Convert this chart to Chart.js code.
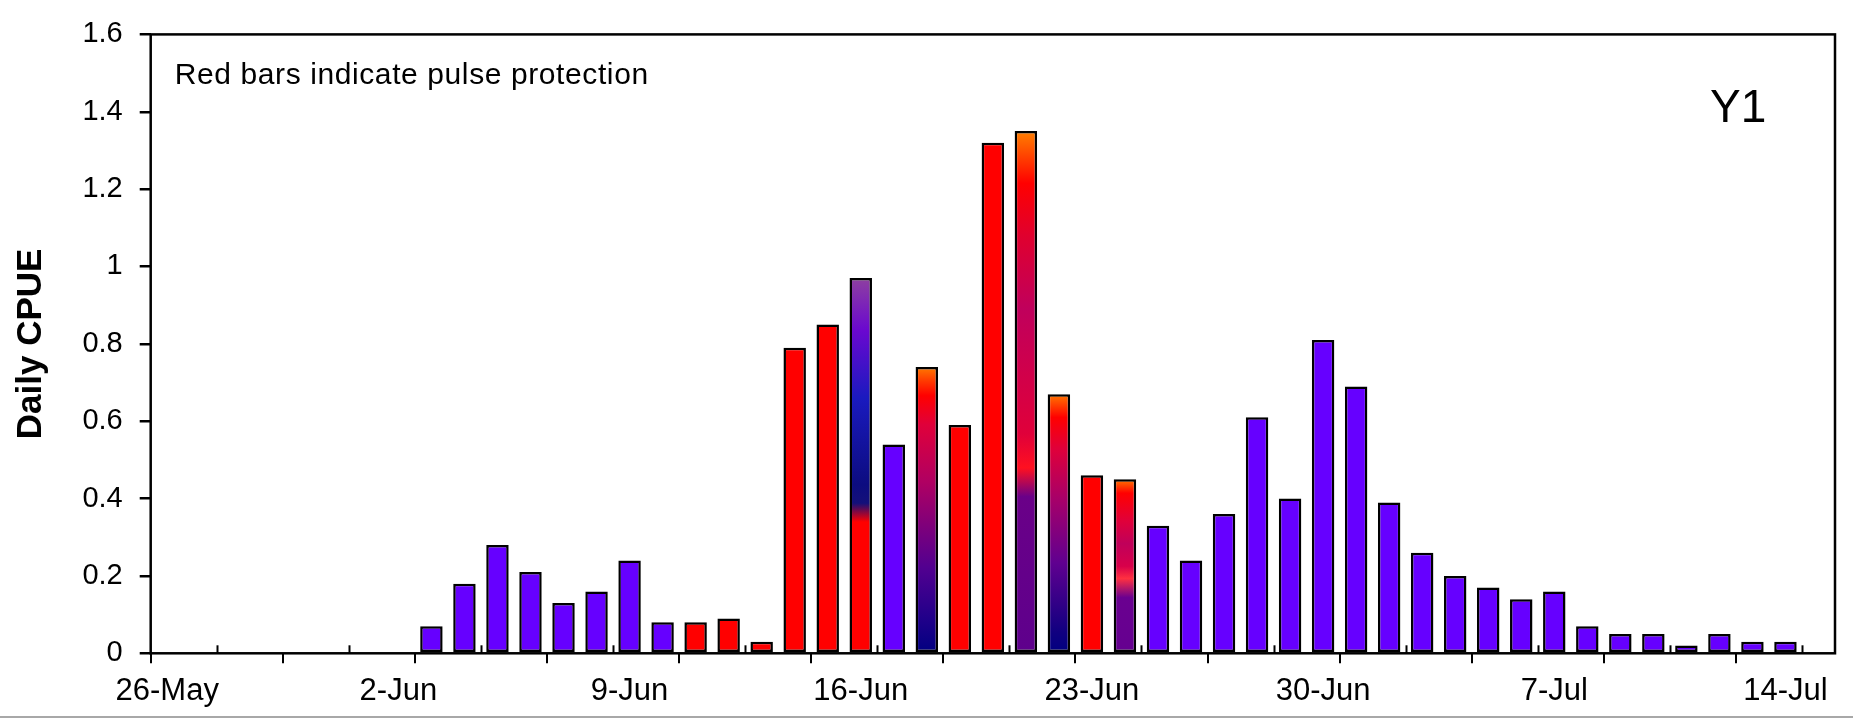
<!DOCTYPE html>
<html>
<head>
<meta charset="utf-8">
<script src="https://cdn.jsdelivr.net/npm/chart.js@4.4.1/dist/chart.umd.min.js"></script>
<style>
  html, body { margin: 0; padding: 0; background: #ffffff; }
  #wrap { width: 1853px; height: 718px; position: relative; }
</style>
</head>
<body>
<div id="wrap"><canvas id="c"></canvas></div>
<script>
// ---------- DATA ----------
const dates = [
  '26-May','27-May','28-May','29-May','30-May','31-May',
  '1-Jun','2-Jun','3-Jun','4-Jun','5-Jun','6-Jun','7-Jun','8-Jun','9-Jun','10-Jun',
  '11-Jun','12-Jun','13-Jun','14-Jun','15-Jun','16-Jun','17-Jun','18-Jun','19-Jun','20-Jun',
  '21-Jun','22-Jun','23-Jun','24-Jun','25-Jun','26-Jun','27-Jun','28-Jun','29-Jun','30-Jun',
  '1-Jul','2-Jul','3-Jul','4-Jul','5-Jul','6-Jul','7-Jul','8-Jul','9-Jul','10-Jul',
  '11-Jul','12-Jul','13-Jul','14-Jul','15-Jul'
];

const cpue = [
  null, null, null, null, null, null, null, null,
  0.07, 0.18, 0.28, 0.21, 0.13, 0.16, 0.24, 0.08,
  0.08, 0.09, 0.03, 0.79, 0.85,
  0.97, 0.54, 0.74, 0.59, 1.32, 1.35, 0.67, 0.46, 0.45,
  0.33, 0.24, 0.36, 0.61, 0.40, 0.81,
  0.69, 0.39, 0.26, 0.20, 0.17, 0.14, 0.16, 0.07, 0.05, 0.05, 0.02, 0.05, 0.03, 0.03,
  null
];

// bar fill group per day: b = no protection, r = pulse protection, g.. = blended bars
const barGroup = [
  '', '', '', '', '', '', '', '',
  'b', 'b', 'b', 'b', 'b', 'b', 'b', 'b',
  'r', 'r', 'r', 'r', 'r',
  'g16', 'b', 'g18', 'r', 'r', 'g21', 'g22', 'r', 'g24',
  'b', 'b', 'b', 'b', 'b', 'b',
  'b', 'b', 'b', 'b', 'b', 'b', 'b', 'b', 'b', 'b', 'b', 'b', 'b', 'b',
  ''
];

const xTickLabels = ['26-May', '2-Jun', '9-Jun', '16-Jun', '23-Jun', '30-Jun', '7-Jul', '14-Jul'];
const yTickLabels = ['0', '0.2', '0.4', '0.6', '0.8', '1', '1.2', '1.4', '1.6'];

const yTitle = 'Daily CPUE';
const noteText = 'Red bars indicate pulse protection';
const panelText = 'Y1';

// ---------- STYLES ----------
const FILLS = { b: '#6600FF', r: '#FF0000' };
const GRADIENTS = {
  g16: [[0, '#FF0000'], [0.35, '#FF0000'], [0.40, '#14107A'], [0.45, '#0C0C80'], [0.68, '#1A1ABF'], [0.86, '#6A08D0'], [1, '#8E40A0']],
  g18: [[0, '#000080'], [0.12, '#20008A'], [0.30, '#520090'], [0.45, '#80007A'], [0.60, '#B00062'], [0.80, '#E0003A'], [0.90, '#FF0000'], [0.95, '#FF3800'], [1, '#FF7A00']],
  g21: [[0, '#5E008C'], [0.30, '#6A0088'], [0.355, '#FF1020'], [0.42, '#E0003A'], [0.66, '#C0005C'], [0.80, '#E0002E'], [0.90, '#FF0000'], [1, '#FF8000']],
  g22: [[0, '#000080'], [0.08, '#100080'], [0.35, '#600090'], [0.60, '#A80068'], [0.79, '#E0003A'], [0.91, '#FF0000'], [1, '#FF7800']],
  g24: [[0, '#650090'], [0.32, '#6A0090'], [0.43, '#FF3040'], [0.50, '#D8004A'], [0.63, '#C0005A'], [0.76, '#E0003A'], [0.92, '#FF0000'], [1, '#FF7800']]
};
const FONT = '"Liberation Sans", Arial, Helvetica, sans-serif';

function barFill(context) {
  const g = barGroup[context.dataIndex];
  const stops = GRADIENTS[g];
  if (!stops) return FILLS[g] || FILLS.b;
  const chart = context.chart;
  const ys = chart.scales && chart.scales.y;
  const v = context.raw;
  if (!ys || !chart.chartArea || v == null) return FILLS.r;
  const y0 = ys.getPixelForValue(0);
  const y1 = ys.getPixelForValue(v);
  if (!isFinite(y0) || !isFinite(y1) || y0 === y1) return FILLS.r;
  const grad = chart.ctx.createLinearGradient(0, y0, 0, y1);
  stops.forEach(([f, c]) => grad.addColorStop(f, c));
  return grad;
}

const decor = {
  id: 'decor',
  afterDatasetsDraw(chart) {
    const { ctx, chartArea: a, scales: { x } } = chart;
    ctx.save();
    // minor tick marks (inside, every 2 days between major ticks)
    const slot = x.width / dates.length;
    ctx.strokeStyle = '#000';
    ctx.lineWidth = 2;
    for (let k = 2; k < dates.length; k += 4) {
      const px = Math.round(x.left + k * slot) + 0.5;
      ctx.beginPath();
      ctx.moveTo(px, a.bottom);
      ctx.lineTo(px, a.bottom - 8);
      ctx.stroke();
    }
    // plot frame
    ctx.lineWidth = 2.5;
    ctx.strokeRect(a.left, a.top, a.right - a.left, a.bottom - a.top);
    // in-plot texts
    ctx.fillStyle = '#000';
    ctx.textAlign = 'left';
    ctx.textBaseline = 'alphabetic';
    ctx.font = '30px ' + FONT;
    try { ctx.letterSpacing = '0.6px'; } catch (e) {}
    ctx.fillText(noteText, a.left + 24, a.top + 50);
    try { ctx.letterSpacing = '0px'; } catch (e) {}
    ctx.font = '46px ' + FONT;
    ctx.fillText(panelText, a.right - 125, a.top + 88);
    // bottom border line of the slide
    ctx.fillStyle = '#A8A8A8';
    ctx.fillRect(0, chart.height - 2, chart.width, 2);
    ctx.restore();
  }
};

new Chart(document.getElementById('c'), {
  type: 'bar',
  data: {
    labels: dates,
    datasets: [{
      data: cpue,
      backgroundColor: barFill,
      borderColor: '#000000',
      borderWidth: 2.5,
      borderSkipped: false,
      categoryPercentage: 1.0,
      barPercentage: 0.68
    }]
  },
  options: {
    responsive: true,
    maintainAspectRatio: false,
    animation: false,
    devicePixelRatio: 1,
    layout: { padding: { top: 30.5, right: 18, bottom: 0, left: 0 } },
    plugins: {
      legend: { display: false },
      tooltip: { enabled: false },
      title: { display: false }
    },
    scales: {
      x: {
        type: 'category',
        offset: true,
        border: { display: false },
        grid: {
          offset: true,
          drawOnChartArea: false,
          drawTicks: true,
          tickLength: 10,
          lineWidth: 2,
          color: (c) => (c.index % 4 === 0 ? '#000000' : 'rgba(0,0,0,0)')
        },
        ticks: {
          autoSkip: false,
          maxRotation: 0,
          minRotation: 0,
          padding: 10,
          color: '#000000',
          font: { family: FONT, size: 31 },
          callback: (val, i) => (xTickLabels.includes(dates[i]) ? dates[i] : '')
        },
        afterFit: (s) => { s.height = 64.7; }
      },
      y: {
        min: 0,
        max: 1.6,
        border: { display: false },
        grid: {
          drawOnChartArea: false,
          drawTicks: true,
          tickLength: 11,
          lineWidth: 2.5,
          color: '#000000'
        },
        ticks: {
          stepSize: 0.2,
          padding: 17,
          color: '#000000',
          font: { family: FONT, size: 29 },
          callback: (val, i) => yTickLabels[i]
        },
        title: {
          display: true,
          text: yTitle,
          color: '#000000',
          font: { family: FONT, size: 35, weight: 'bold' },
          padding: { top: 10, bottom: 0 }
        },
        afterFit: (s) => { s.width = 150.7; }
      }
    }
  },
  plugins: [decor]
});
</script>
</body>
</html>
